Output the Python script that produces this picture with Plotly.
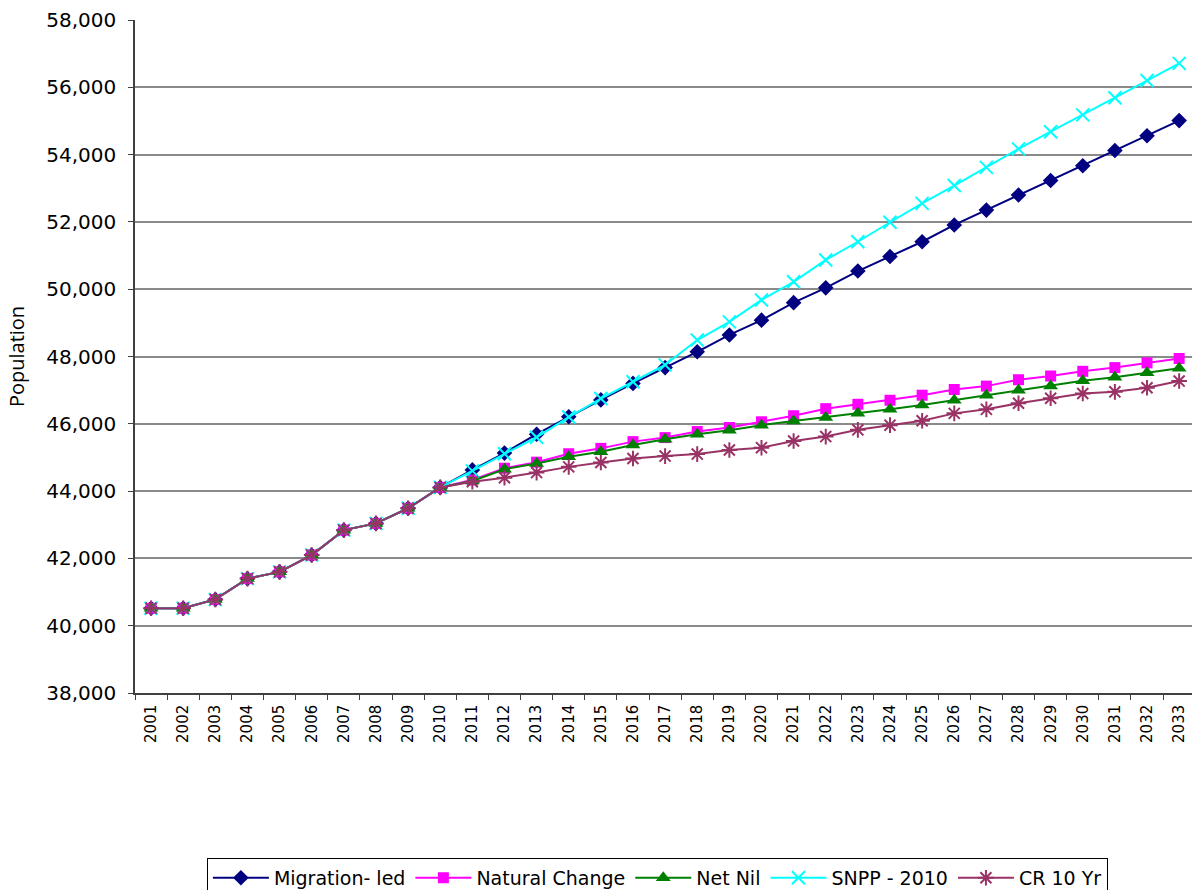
import plotly.graph_objects as go

years = [str(y) for y in range(2001, 2034)]

# Shared history 2001-2010, then the five projection scenarios
history = [40520, 40520, 40780, 41400, 41600, 42100, 42840, 43040, 43490, 44110]

migration_led = history + [44630, 45130, 45690, 46210, 46710, 47200, 47670, 48140,
                           48640, 49080, 49600, 50040, 50540, 50970, 51410, 51910,
                           52350, 52800, 53230, 53670, 54120, 54560, 55010]
natural_change = history + [44330, 44680, 44860, 45110, 45270, 45470, 45590, 45770,
                            45890, 46060, 46240, 46450, 46580, 46700, 46850, 47020,
                            47120, 47310, 47420, 47560, 47670, 47810, 47940]
net_nil = history + [44300, 44650, 44820, 45020, 45170, 45370, 45540, 45690,
                     45810, 45960, 46080, 46190, 46310, 46430, 46560, 46700,
                     46850, 47000, 47120, 47280, 47380, 47520, 47650]
snpp_2010 = history + [44600, 45110, 45600, 46200, 46750, 47250, 47750, 48490,
                       49030, 49680, 50220, 50870, 51410, 51990, 52550, 53080,
                       53620, 54170, 54680, 55180, 55690, 56200, 56710]
cr_10yr = history + [44280, 44400, 44550, 44720, 44850, 44970, 45040, 45100,
                     45220, 45290, 45490, 45620, 45820, 45960, 46090, 46310,
                     46430, 46610, 46760, 46900, 46950, 47070, 47270]

y_ticks = list(range(38000, 58001, 2000))

series = [
    ("Migration- led", migration_led, "#000080", "diamond", 12, 0),
    ("Natural Change", natural_change, "#FF00FF", "square", 11, 0),
    ("Net Nil", net_nil, "#008000", "triangle-up", 13, 0),
    ("SNPP - 2010", snpp_2010, "#00FFFF", "x-thin-open", 13, 2),
    ("CR 10 Yr", cr_10yr, "#993366", "asterisk-open", 13, 2),
]

fig = go.Figure()
for name, vals, color, symbol, size, mlw in series:
    fig.add_trace(go.Scatter(
        x=years, y=vals, name=name, mode="lines+markers",
        line=dict(color=color, width=2),
        marker=dict(symbol=symbol, size=size, color=color,
                    line=dict(color=color, width=mlw)),
    ))

fig.update_layout(
    width=1192, height=890,
    margin=dict(l=135, r=0, t=20, b=197, autoexpand=False),
    paper_bgcolor="white", plot_bgcolor="white",
    showlegend=True,
    legend=dict(
        orientation="h", x=0.068, xanchor="left", y=-0.245, yanchor="top",
        font=dict(family="DejaVu Sans", size=19, color="black"),
        bordercolor="black", borderwidth=1, bgcolor="white",
        itemwidth=56, tracegroupgap=0,
    ),
)

fig.update_xaxes(
    type="category", range=[-0.5, 32.4],
    tickangle=-90, tickson="boundaries", ticks="outside", ticklen=5,
    tickcolor="#404040", ticklabelstandoff=4,
    tickfont=dict(family="DejaVu Sans", size=15, color="black"),
    showline=True, linecolor="#404040", linewidth=1.5,
    showgrid=False, zeroline=False,
)

fig.update_yaxes(
    range=[38000, 58000], tickvals=y_ticks, tickformat=",d",
    ticks="outside", ticklen=5, tickcolor="#404040", ticklabelstandoff=8,
    tickfont=dict(family="DejaVu Sans", size=20, color="black"),
    showline=True, linecolor="#404040", linewidth=1.5,
    showgrid=True, gridcolor="#8a8a8a", gridwidth=1.5, zeroline=False,
    title=dict(text="Population", standoff=16,
               font=dict(family="Open Sans", size=20, color="black")),
)

fig.write_html("out.html")
